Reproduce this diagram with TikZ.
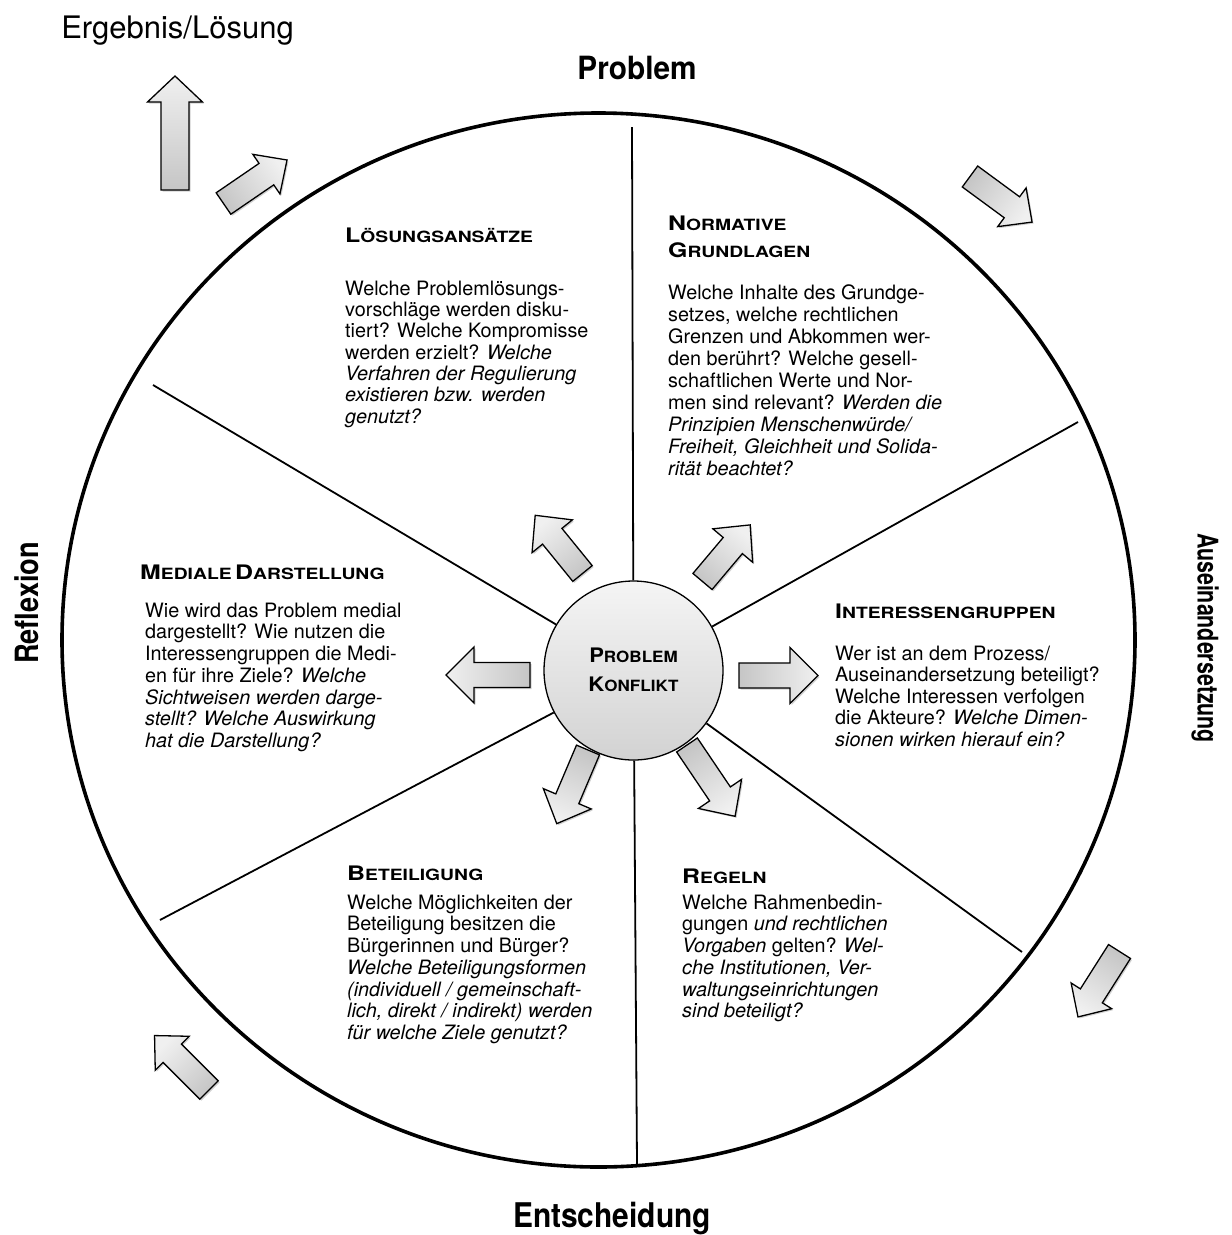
\documentclass[tikz,border=0pt]{standalone}
\usepackage{fontspec}
\setmainfont{TeX Gyre Heros}
\usepackage{graphicx}
\usetikzlibrary{shadows,calc}
\newcommand\bigL[1]{{\fontsize{20}{21}\selectfont #1}}
\newcommand\smL[1]{{\fontsize{15.5}{17}\selectfont #1}}
\newcommand\hd[1]{\scalebox{1.245}[1]{\bfseries #1}}
\newcommand\barrow[7]{%
  \pgfmathsetmacro\sa{#3-90}%
  \pgfmathsetmacro\hb{#4-#7}%
  \begin{scope}[shift={(#1,#2)},rotate=#3]
    \path[barrowsty,shading angle=\sa] (0,-#5) -- (\hb,-#5) -- (\hb,-#6) -- (#4,0) -- (\hb,#6) -- (\hb,#5) -- (0,#5) -- cycle;
  \end{scope}}
\begin{document}
\begin{tikzpicture}[x=1pt,y=-1pt,
  barrowsty/.style={draw=black,line width=1.3pt,top color=gray!12,bottom color=gray!45,line join=miter,
     drop shadow={shadow xshift=1.5pt,shadow yshift=-1.5pt,opacity=0.18,fill=black}},
  spoke/.style={line width=1.8pt},
  body/.style={anchor=north west,inner sep=0pt,align=left},
  head/.style={anchor=north west,inner sep=0pt,align=left},
  biglabel/.style={inner sep=0pt,font=\bfseries},
  ctext/.style={anchor=base,inner sep=0pt,font=\bfseries}]
\useasboundingbox (0,0) rectangle (1232,1235);
% outer circle
\draw[line width=3.6pt] (598.5,640) ellipse [x radius=536.5, y radius=527];
% centre
\node[circle,draw=black,line width=1.3pt,top color=gray!8,bottom color=gray!35,minimum size=179pt,inner sep=0pt] (pc) at (633.5,670.5) {};
\node[ctext] (pct1) at (633.5,662) {\scalebox{1.1}[1]{{\fontsize{20}{20}\selectfont P}{\fontsize{15.5}{16}\selectfont ROBLEM}}};
\node[ctext] (pct2) at (633.5,691) {\scalebox{1.1}[1]{{\fontsize{20}{20}\selectfont K}{\fontsize{15.5}{16}\selectfont ONFLIKT}}};
% spokes
\coordinate (sT) at (632,127);
\coordinate (sB) at (637,1164);
\coordinate (sUL) at (153,385);
\coordinate (sUR) at (1078,422);
\coordinate (sLL) at (160,920);
\coordinate (sLR) at (1022,952);
\foreach \p in {sT,sB,sUL,sUR,sLL,sLR} \draw[spoke] (\p) -- (pc);
% outer labels
\node[inner sep=0pt,font=\fontsize{31}{32}\selectfont] (erg) at (177.5,31) {Ergebnis/Lösung};
\node[biglabel] (prob) at (637,68) {\scalebox{0.93}[1]{\fontsize{32}{32}\selectfont Problem}};
\node[biglabel,rotate=90] (refl) at (27,603) {\scalebox{0.85}[1]{\fontsize{32}{32}\selectfont Reflexion}};
\node[biglabel,rotate=-90] (ause) at (1205,638) {\scalebox{0.75}[1]{\fontsize{28.5}{30}\selectfont Auseinandersetzung}};
\node[biglabel] (ents) at (612,1219) {\scalebox{0.88}[1]{\fontsize{34}{34}\selectfont Entscheidung}};
% outer arrows
\barrow{175}{190}{90}{114}{14}{27.5}{26}
\barrow{223.5}{203.5}{34.4}{77}{13}{24}{25}
\barrow{970}{176.5}{-36.3}{77}{13}{24}{25}
\barrow{1119.5}{951.5}{-122.4}{77.5}{13}{24}{25}
\barrow{209}{1090}{135}{77}{13}{24}{25}
% inner arrows
\barrow{582.5}{573.5}{129.1}{75}{12.5}{26}{27}
\barrow{702.5}{581.5}{49.9}{74}{12.5}{26}{27}
\barrow{530}{675}{180}{84}{12.5}{28}{28}
\barrow{739}{675.5}{0}{79}{12.5}{28}{28}
\barrow{588}{750}{-113}{80}{12.5}{26}{27}
\barrow{687}{745}{-56}{86}{12.5}{26}{27}
% headings
\node[head] (h1) at (345,226) {\hd{\rule{0pt}{16pt}\bigL{L}\smL{ÖSUNGSANSÄTZE}}};
\node[head] (h2) at (668,214) {\hd{\rule{0pt}{16pt}\bigL{N}\smL{ORMATIVE}}};
\node[head] (h2b) at (668,241) {\hd{\rule{0pt}{16pt}\bigL{G}\smL{RUNDLAGEN}}};
\node[head] (h3) at (835,602) {\hd{\rule{0pt}{16pt}\bigL{I}\smL{NTERESSENGRUPPEN}}};
\node[head] (h4) at (140,563) {\hd{\rule{0pt}{16pt}\bigL{M}\smL{EDIALE} \bigL{D}\smL{ARSTELLUNG}}};
\node[head] (h5) at (347,864) {\hd{\rule{0pt}{16pt}\bigL{B}\smL{ETEILIGUNG}}};
\node[head] (h6) at (682,867) {\hd{\rule{0pt}{16pt}\bigL{R}\smL{EGELN}}};
% bodies
\node[body,font=\fontsize{19.8}{21.3}\selectfont] (b1) at (345,279) {\rule{0pt}{16pt}Welche Problemlösungs-\\
vorschläge werden disku-\\
tiert? Welche Kompromisse\\
werden erzielt? \textit{Welche}\\
\textit{Verfahren der Regulierung}\\
\textit{existieren bzw. werden}\\
\textit{genutzt?}};
\node[body,font=\fontsize{19.8}{22}\selectfont] (b2) at (668,283) {\rule{0pt}{16pt}Welche Inhalte des Grundge-\\
setzes, welche rechtlichen\\
Grenzen und Abkommen wer-\\
den berührt? Welche gesell-\\
schaftlichen Werte und Nor-\\
men sind relevant? \textit{Werden die}\\
\textit{Prinzipien Menschenwürde/}\\
\textit{Freiheit, Gleichheit und Solida-}\\
\textit{rität beachtet?}};
\node[body,font=\fontsize{19.8}{21.5}\selectfont] (b3) at (835,644) {\rule{0pt}{16pt}Wer ist an dem Prozess/\\
Auseinandersetzung beteiligt?\\
Welche Interessen verfolgen\\
die Akteure? \textit{Welche Dimen-}\\
\textit{sionen wirken hierauf ein?}};
\node[body,font=\fontsize{19.8}{21.7}\selectfont] (b4) at (145,601) {\rule{0pt}{16pt}Wie wird das Problem medial\\
dargestellt? Wie nutzen die\\
Interessengruppen die Medi-\\
en für ihre Ziele? \textit{Welche}\\
\textit{Sichtweisen werden darge-}\\
\textit{stellt? Welche Auswirkung}\\
\textit{hat die Darstellung?}};
\node[body,font=\fontsize{19.8}{21.7}\selectfont] (b5) at (347,893) {\rule{0pt}{16pt}Welche Möglichkeiten der\\
Beteiligung besitzen die\\
Bürgerinnen und Bürger?\\
\textit{Welche Beteiligungsformen}\\
\textit{(individuell / gemeinschaft-}\\
\textit{lich, direkt / indirekt) werden}\\
\textit{für welche Ziele genutzt?}};
\node[body,font=\fontsize{19.8}{21.7}\selectfont] (b6) at (682,893) {\rule{0pt}{16pt}Welche Rahmenbedin-\\
gungen \textit{und rechtlichen}\\
\textit{Vorgaben} gelten? \textit{Wel-}\\
\textit{che Institutionen, Ver-}\\
\textit{waltungseinrichtungen}\\
\textit{sind beteiligt?}};
\end{tikzpicture}
\end{document}
